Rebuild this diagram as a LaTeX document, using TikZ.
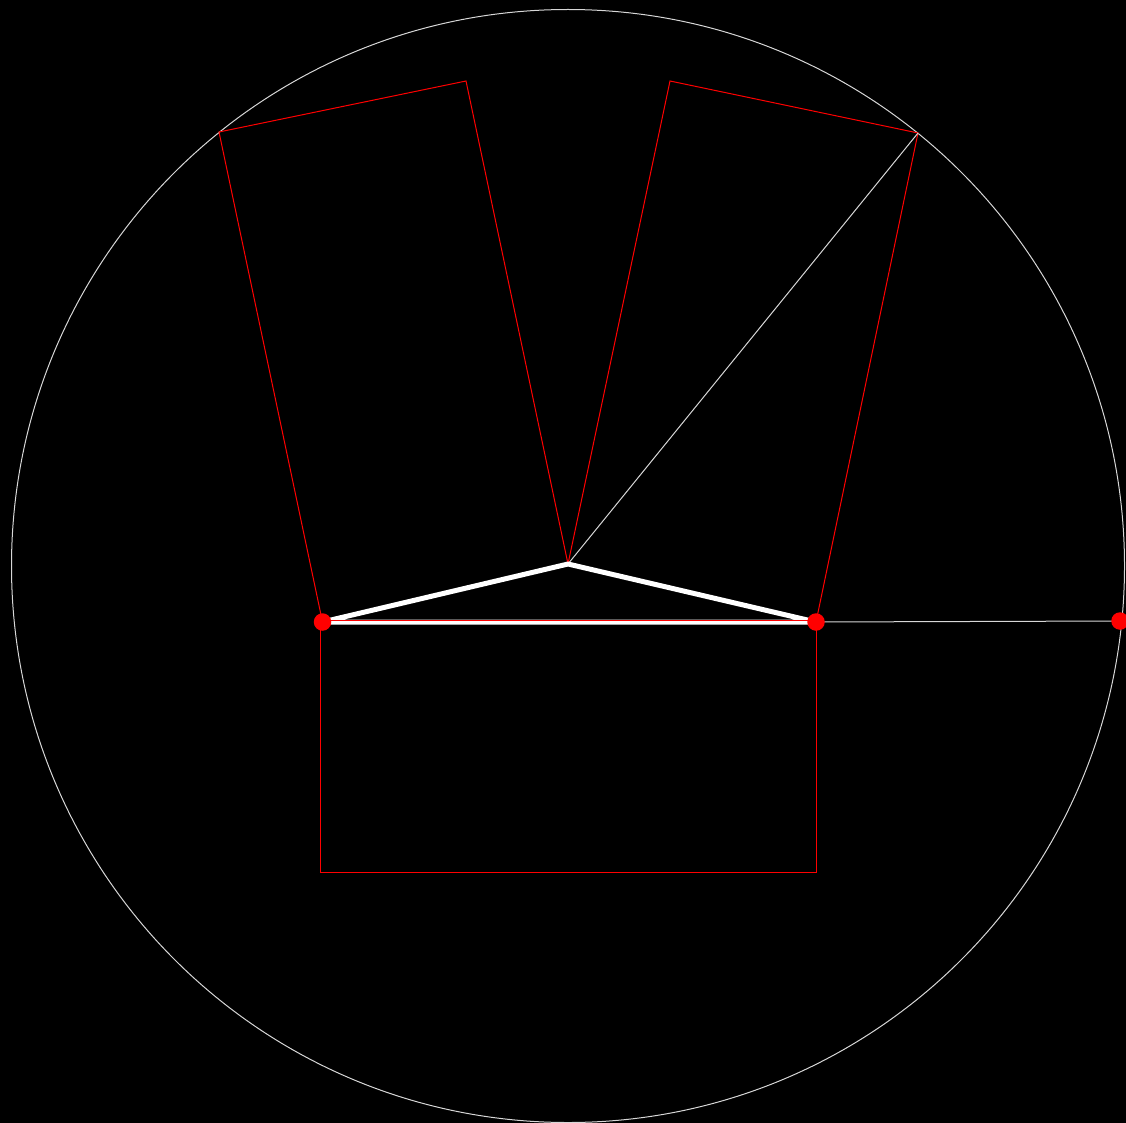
\documentclass[tikz,border=0pt]{standalone}
\usetikzlibrary{calc}
\begin{document}
\begin{tikzpicture}[x=1pt,y=-1pt,
  thinred/.style={draw={rgb,255:red,255;green,0;blue,0},line width=1pt},
  thinwhite/.style={draw={rgb,255:red,215;green,215;blue,215},line width=1pt},
  thickwhite/.style={draw=white,line width=5pt,line join=round},
  reddot/.style={circle,fill={rgb,255:red,255;green,0;blue,0},inner sep=0pt,minimum size=17.5pt}]
\fill[black] (0,0) rectangle (1126,1123);
\useasboundingbox (0,0) rectangle (1126,1123);
% points
\coordinate (A) at (322.5,622);
\coordinate (B) at (816,622);
\coordinate (C) at (568,564);
\coordinate (L1) at (219,132);
\coordinate (L2) at (466,81);
\coordinate (R1) at (670,81);
\coordinate (R2) at (918,133);
\coordinate (D1) at (320.5,872);
\coordinate (D2) at (816,872);
\coordinate (E) at (1120,621);
\coordinate (A2) at ($(A)+(0,-2)$);
\coordinate (B2) at ($(B)+(0,-2)$);
% circle
\draw[thinwhite] (568,566) circle (556.5);
% red rectangles
\draw[thinred] (A) -- (L1) -- (L2) -- (C);
\draw[thinred] (C) -- (R1) -- (R2) -- (B);
\draw[thinred] (320.5,620) -- (D1) -- (D2) -- (816,620);
% white thin lines
\draw[thinwhite] (C) -- (R2);
\draw[thinwhite] (B) -- (E);
% thick triangle
\draw[thickwhite] (A) -- (C) -- (B) -- cycle;
\draw[thinred] (A2) -- (B2);
% dots
\node[reddot] (nA) at (A) {};
\node[reddot] (nB) at (B) {};
\node[reddot] (nE) at (E) {};
\end{tikzpicture}
\end{document}
